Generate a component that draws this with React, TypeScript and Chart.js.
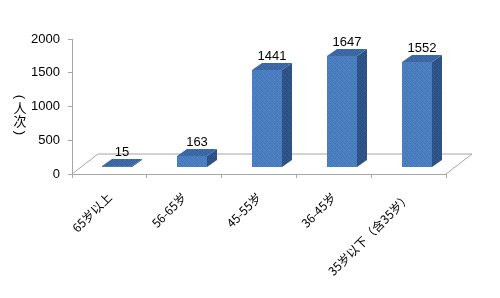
import React, { useEffect, useRef } from "react";
import { Chart, registerables } from "chart.js";

Chart.register(...registerables);

const categories = ["65岁以上", "56-65岁", "45-55岁", "36-45岁", "35岁以下（含35岁）"];
const values = [15, 163, 1441, 1647, 1552];
const yTickValues = [0, 500, 1000, 1500, 2000];
const yTitleChars = ["(", "人", "次", ")"];

const FONT = '"Liberation Sans", "Noto Sans CJK SC", sans-serif';
const CJK = '"Noto Sans CJK SC", sans-serif';

// 3D geometry (pixels)
const FLOOR_DX = 26;
const FLOOR_DY = -20;
const BAR_OFF_DX = 8;
const BAR_OFF_DY = -7;
const BAR_DEPTH_DX = 10;
const BAR_DEPTH_DY = -7;

const FRONT: [number, number, number] = [74, 126, 191];
const SIDE: [number, number, number] = [46, 84, 135];
const TOP: [number, number, number] = [60, 105, 165];
const LINE = "#A6A6A6";

// fixed stipple texture (brightness offsets), purely decorative
const STIPPLE = [
  [6, -8, 2, -4, 8],
  [-6, 4, -10, 6, -2],
  [2, -4, 8, -8, 4],
  [-10, 6, -2, 4, -6],
  [4, -2, -6, 10, -4],
];

function makePattern(ctx: CanvasRenderingContext2D, rgb: [number, number, number]) {
  const c = document.createElement("canvas");
  c.width = 5;
  c.height = 5;
  const g = c.getContext("2d")!;
  const img = g.createImageData(5, 5);
  for (let r = 0; r < 5; r++) {
    for (let q = 0; q < 5; q++) {
      const k = (r * 5 + q) * 4;
      const d = STIPPLE[r][q];
      img.data[k] = Math.max(0, Math.min(255, rgb[0] + d));
      img.data[k + 1] = Math.max(0, Math.min(255, rgb[1] + d));
      img.data[k + 2] = Math.max(0, Math.min(255, rgb[2] + d));
      img.data[k + 3] = 255;
    }
  }
  g.putImageData(img, 0, 0);
  return ctx.createPattern(c, "repeat")!;
}

const threeD = {
  id: "threeD",
  beforeDatasetsDraw(chart: any) {
    const { ctx, chartArea: a } = chart;
    ctx.save();
    ctx.strokeStyle = LINE;
    ctx.lineWidth = 1;
    ctx.beginPath();
    ctx.moveTo(a.left, a.bottom);
    ctx.lineTo(a.left + FLOOR_DX, a.bottom + FLOOR_DY);
    ctx.lineTo(a.right + FLOOR_DX, a.bottom + FLOOR_DY);
    ctx.lineTo(a.right, a.bottom);
    ctx.stroke();
    ctx.restore();
  },
  afterDatasetsDraw(chart: any) {
    const { ctx } = chart;
    const meta = chart.getDatasetMeta(0);
    const pFront = makePattern(ctx, FRONT);
    const pSide = makePattern(ctx, SIDE);
    const pTop = makePattern(ctx, TOP);
    ctx.save();
    meta.data.forEach((el: any, i: number) => {
      const x0 = Math.round(el.x - el.width / 2 + BAR_OFF_DX);
      const x1 = Math.round(el.x + el.width / 2 + BAR_OFF_DX);
      const top = Math.round(el.y + BAR_OFF_DY);
      const bot = Math.round(el.base + BAR_OFF_DY);
      // side
      ctx.fillStyle = pSide;
      ctx.beginPath();
      ctx.moveTo(x1, bot);
      ctx.lineTo(x1, top);
      ctx.lineTo(x1 + BAR_DEPTH_DX, top + BAR_DEPTH_DY);
      ctx.lineTo(x1 + BAR_DEPTH_DX, bot + BAR_DEPTH_DY);
      ctx.closePath();
      ctx.fill();
      // front
      ctx.fillStyle = pFront;
      ctx.fillRect(x0, top, x1 - x0, bot - top);
      // top
      ctx.fillStyle = pTop;
      ctx.beginPath();
      ctx.moveTo(x0, top);
      ctx.lineTo(x1, top);
      ctx.lineTo(x1 + BAR_DEPTH_DX, top + BAR_DEPTH_DY);
      ctx.lineTo(x0 + BAR_DEPTH_DX, top + BAR_DEPTH_DY);
      ctx.closePath();
      ctx.fill();
      // label
      ctx.fillStyle = "#000";
      ctx.font = `13px ${FONT}`;
      ctx.textAlign = "center";
      ctx.textBaseline = "middle";
      ctx.fillText(String(values[i]), (x0 + x1) / 2 + BAR_DEPTH_DX / 2, top + BAR_DEPTH_DY - 7);
    });
    ctx.restore();
  },
  afterDraw(chart: any) {
    const { ctx } = chart;
    ctx.save();
    ctx.fillStyle = "#000";
    ctx.textAlign = "center";
    ctx.textBaseline = "middle";
    const ys = [97, 108, 121, 133];
    yTitleChars.forEach((c, i) => {
      if (c === "(" || c === ")") {
        ctx.save();
        ctx.translate(20, ys[i]);
        ctx.rotate(Math.PI / 2);
        ctx.font = `13px ${FONT}`;
        ctx.fillText(c, 0, 0);
        ctx.restore();
      } else {
        ctx.font = `13px ${CJK}`;
        ctx.fillText(c, 20, ys[i]);
      }
    });
    ctx.restore();
  },
};

export default function App() {
  const ref = useRef<HTMLCanvasElement>(null);
  useEffect(() => {
    if (!ref.current) return;
    const chart = new Chart(ref.current, {
      type: "bar",
      data: {
        labels: categories,
        datasets: [
          {
            data: values,
            backgroundColor: "rgba(0,0,0,0)",
            borderWidth: 0,
            barPercentage: 0.8,
            categoryPercentage: 0.5,
          },
        ],
      },
      options: {
        responsive: false,
        animation: false,
        events: [],
        layout: { padding: { top: 39, right: 54, left: 0, bottom: 0 } },
        plugins: { legend: { display: false }, tooltip: { enabled: false } },
        scales: {
          x: {
            offset: true,
            grid: { offset: true, drawOnChartArea: false, tickLength: 4, color: LINE },
            border: { display: true, color: LINE },
            ticks: {
              minRotation: 45,
              maxRotation: 45,
              padding: 12,
              color: "#000",
              font: { size: 12, family: CJK },
            },
            afterFit: (s: any) => {
              s.height = 124;
            },
          },
          y: {
            min: 0,
            max: 2000,
            afterBuildTicks: (s: any) => {
              s.ticks = yTickValues.map((v) => ({ value: v }));
            },
            grid: { drawOnChartArea: false, tickLength: 4, color: LINE },
            border: { display: true, color: LINE },
            ticks: {
              padding: 8,
              color: "#000",
              font: { size: 13, family: FONT },
              callback: (v: any) => String(v),
            },
            afterFit: (s: any) => {
              s.width = 72;
            },
          },
        },
      },
      plugins: [threeD],
    });
    return () => chart.destroy();
  }, []);
  return (
    <div style={{ position: "absolute", left: 0, top: 0, width: 500, height: 298, background: "#fff" }}>
      <canvas ref={ref} width={500} height={298} />
    </div>
  );
}
